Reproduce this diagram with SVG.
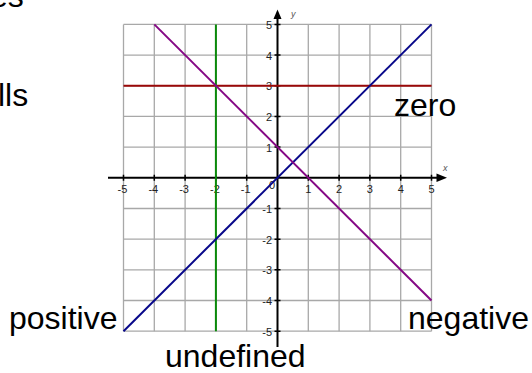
<svg xmlns="http://www.w3.org/2000/svg" width="532" height="373" viewBox="0 0 532 373">
<defs>
<style>
.grid line{stroke:#a8a8a8;stroke-width:1.3}
.axis{stroke:#000;stroke-width:2}
.tick{stroke:#000;stroke-width:1.5}
.tl{font-family:"Liberation Sans",Arial,sans-serif;font-size:11px;fill:#222}
.big{font-family:"Liberation Sans",Arial,sans-serif;font-size:32px;fill:#000}
.al{font-family:"Liberation Sans",Arial,sans-serif;font-size:9px;font-style:italic;fill:#555}
.plot{stroke-width:2;fill:none}
</style>
</defs>
<rect width="532" height="373" fill="#fff"/>
<g id="cut-text">
<text class="big" x="-10" y="7">es</text>
<text class="big" x="-2" y="106">lls</text>
</g>
<g id="grid" class="grid">
<line x1="123.5" y1="24.4" x2="123.5" y2="331.2"/>
<line x1="154.3" y1="24.4" x2="154.3" y2="331.2"/>
<line x1="185.1" y1="24.4" x2="185.1" y2="331.2"/>
<line x1="215.9" y1="24.4" x2="215.9" y2="331.2"/>
<line x1="246.7" y1="24.4" x2="246.7" y2="331.2"/>
<line x1="308.3" y1="24.4" x2="308.3" y2="331.2"/>
<line x1="339.1" y1="24.4" x2="339.1" y2="331.2"/>
<line x1="369.9" y1="24.4" x2="369.9" y2="331.2"/>
<line x1="400.7" y1="24.4" x2="400.7" y2="331.2"/>
<line x1="431.5" y1="24.4" x2="431.5" y2="331.2"/>
<line x1="123.5" y1="24.4" x2="431.5" y2="24.4"/>
<line x1="123.5" y1="55.1" x2="431.5" y2="55.1"/>
<line x1="123.5" y1="85.8" x2="431.5" y2="85.8"/>
<line x1="123.5" y1="116.4" x2="431.5" y2="116.4"/>
<line x1="123.5" y1="147.1" x2="431.5" y2="147.1"/>
<line x1="123.5" y1="208.5" x2="431.5" y2="208.5"/>
<line x1="123.5" y1="239.2" x2="431.5" y2="239.2"/>
<line x1="123.5" y1="269.8" x2="431.5" y2="269.8"/>
<line x1="123.5" y1="300.5" x2="431.5" y2="300.5"/>
<line x1="123.5" y1="331.2" x2="431.5" y2="331.2"/>
</g>
<g id="axes">
<line class="axis" x1="108" y1="177.8" x2="438" y2="177.8"/>
<polygon points="447,177.8 436.5,173.6 436.5,182" fill="#000"/>
<line class="axis" x1="277.5" y1="347" x2="277.5" y2="18"/>
<polygon points="277.5,9.5 273.5,19 281.5,19" fill="#000"/>
<g class="tick">
<path d="M123.5 174.8v6M154.3 174.8v6M185.1 174.8v6M215.9 174.8v6M246.7 174.8v6M308.3 174.8v6M339.1 174.8v6M369.9 174.8v6M400.7 174.8v6M431.5 174.8v6"/>
<path d="M274.5 24.4h6M274.5 55.1h6M274.5 85.8h6M274.5 116.4h6M274.5 147.1h6M274.5 208.5h6M274.5 239.2h6M274.5 269.8h6M274.5 300.5h6M274.5 331.2h6"/>
</g>
<text class="al" x="291" y="17">y</text>
<text class="al" x="443" y="171">x</text>
</g>
<g id="x-tick-labels" class="tl" text-anchor="middle">
<text x="122.5" y="193">-5</text>
<text x="153.3" y="193">-4</text>
<text x="184.1" y="193">-3</text>
<text x="214.9" y="193">-2</text>
<text x="245.7" y="193">-1</text>
<text x="272" y="189">0</text>
<text x="308.3" y="193">1</text>
<text x="339.1" y="193">2</text>
<text x="369.9" y="193">3</text>
<text x="400.7" y="193">4</text>
<text x="431.5" y="193">5</text>
</g>
<g id="y-tick-labels" class="tl" text-anchor="end">
<text x="272" y="29">5</text>
<text x="272" y="59.5">4</text>
<text x="272" y="90.2">3</text>
<text x="272" y="120.8">2</text>
<text x="272" y="151.5">1</text>
<text x="272" y="212.9">-1</text>
<text x="272" y="243.6">-2</text>
<text x="272" y="274.2">-3</text>
<text x="272" y="304.9">-4</text>
<text x="272" y="335.6">-5</text>
</g>
<g id="lines">
<line id="line-zero" class="plot" x1="123.5" y1="85.8" x2="431.5" y2="85.8" stroke="#9a0808"/>
<line id="line-undefined" class="plot" x1="215.9" y1="24.4" x2="215.9" y2="331.2" stroke="#0a8a0a"/>
<line id="line-positive" class="plot" x1="123.5" y1="331.2" x2="431.5" y2="24.4" stroke="#08088a"/>
<line id="line-negative" class="plot" x1="154.3" y1="24.4" x2="431.5" y2="300.5" stroke="#850885"/>
</g>
<g id="label-zero"><text class="big" x="394" y="116">zero</text></g>
<g id="label-positive"><text class="big" x="9" y="329">positive</text></g>
<g id="label-negative"><text class="big" x="408" y="329">negative</text></g>
<g id="label-undefined"><text class="big" x="165" y="367">undefined</text></g>
</svg>
